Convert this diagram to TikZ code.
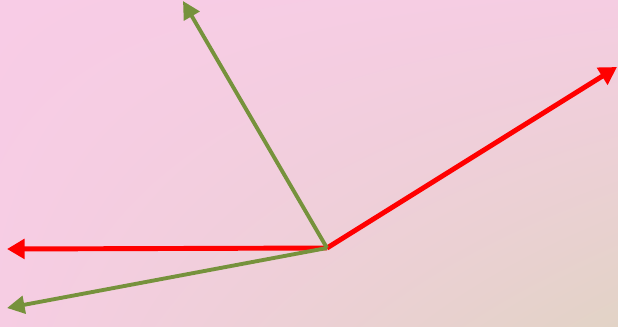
\documentclass[tikz,border=0pt]{standalone}
\usepackage{tikz}
\usetikzlibrary{arrows.meta, shadings}
\definecolor{cBgA}{RGB}{248,204,230}
\definecolor{cBgB}{RGB}{245,205,226}
\definecolor{cBgC}{RGB}{246,205,227}
\definecolor{cBgD}{RGB}{226,211,198}
\definecolor{cR}{RGB}{255,0,0}
\definecolor{cG}{RGB}{118,146,60}
\tikzset{
    redvec/.style={-{Triangle[length=10pt,width=11pt]}, line width=2.8pt, cR},
    greenvec/.style={-{Triangle[length=10pt,width=10pt]}, line width=2.2pt, cG}
}
\begin{document}
\begin{tikzpicture}[x=0.02cm, y=-0.02cm]
    % Background
    \shade[upper left=cBgA, upper right=cBgB, lower left=cBgC, lower right=cBgD] (0,0) rectangle (618,326);
    \useasboundingbox (0,0) rectangle (618,326);

    % Points
    \coordinate (o) at (327,248);
    \coordinate (r1) at (617,67);
    \coordinate (r2) at (7,249);
    \coordinate (g1) at (183,1);
    \coordinate (g2) at (7,308);

    % Vectors
    \draw[redvec] (o) -- (r1);
    \draw[redvec] (o) -- (r2);
    \draw[greenvec] (o) -- (g1);
    \draw[greenvec] (o) -- (g2);
\end{tikzpicture}
\end{document}
